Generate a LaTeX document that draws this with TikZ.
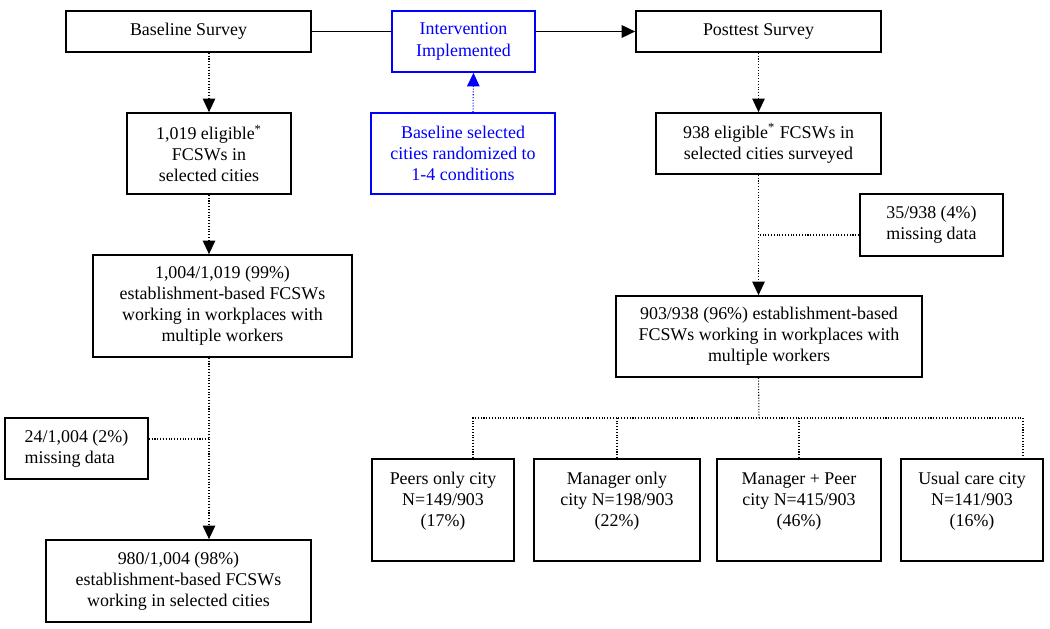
\documentclass[tikz,border=0pt]{standalone}
\usepackage{fontspec}
\setmainfont{Liberation Serif}
\usepackage{xcolor}
\usepackage{tikz}
\usetikzlibrary{arrows.meta}

\begin{document}
\begin{tikzpicture}[x=0.02cm, y=-0.02cm,
    every node/.style = {shape=rectangle, draw, line width=1pt,
      align=center, inner sep=2pt,
      font=\fontsize{10.2}{12}\selectfont},
    bluebox/.style = {draw=blue, text=blue},
    notebox/.style = {align=left},
    flow/.style = {line width=1pt, -{Triangle[length=2.7mm, width=2.5mm]}},
    dotflow/.style = {line width=0.6pt, densely dotted, -{Triangle[length=2.7mm, width=2.5mm]}},
    dotline/.style = {line width=0.6pt, densely dotted}]
    \useasboundingbox (0,0) rectangle (1050,628);
    % top row
    \node[minimum width=4.9cm, minimum height=0.82cm] (base) at (188.5,31.5) {Baseline Survey};
    \node[bluebox, minimum width=2.86cm, minimum height=1.22cm] (interv) at (463.5,41.5) {Intervention\\Implemented};
    \node[minimum width=4.9cm, minimum height=0.82cm] (post) at (758.5,31.5) {Posttest Survey};
    % second row
    \node[minimum width=3.28cm, minimum height=1.62cm] (elig1) at (209,153.5)
      {1,019 eligible\textsuperscript{*}\\FCSWs in\\selected cities};
    \node[bluebox, minimum width=3.68cm, minimum height=1.62cm] (rand) at (463,153.5)
      {Baseline selected\\cities randomized to\\1-4 conditions};
    \node[minimum width=4.5cm, minimum height=1.22cm] (elig2) at (768.5,143.5)
      {938 eligible\textsuperscript{*} FCSWs in\\selected cities surveyed};
    % baseline column
    \node[minimum width=5.18cm, minimum height=2.04cm] (multi1) at (222.5,306)
      {1,004/1,019 (99\%)\\establishment-based FCSWs\\working in workplaces with\\multiple workers};
    \node[notebox, minimum width=2.86cm, minimum height=1.22cm] (miss1) at (76.5,448.5)
      {24/1,004 (2\%)\\missing data};
    \node[minimum width=5.3cm, minimum height=1.64cm] (final1) at (178.5,581)
      {980/1,004 (98\%)\\establishment-based FCSWs\\working in selected cities};
    % posttest column
    \node[notebox, minimum width=2.86cm, minimum height=1.24cm] (miss2) at (931.5,225)
      {35/938 (4\%)\\missing data};
    \node[minimum width=6.12cm, minimum height=1.62cm] (multi2) at (769,336.5)
      {903/938 (96\%) establishment-based\\FCSWs working in workplaces with\\multiple workers};
    % conditions
    \node[minimum width=2.84cm, minimum height=2.04cm] (peer) at (443,510)
      {Peers only city\\N=149/903\\(17\%)\\\mbox{}};
    \node[minimum width=3.32cm, minimum height=2.04cm] (mgr) at (617,510)
      {Manager only\\city N=198/903\\(22\%)\\\mbox{}};
    \node[minimum width=3.28cm, minimum height=2.04cm] (mgrpeer) at (799,510)
      {Manager + Peer\\city N=415/903\\(46\%)\\\mbox{}};
    \node[minimum width=2.84cm, minimum height=2.04cm] (usual) at (972,510)
      {Usual care city\\N=141/903\\(16\%)\\\mbox{}};
    \coordinate (split) at (759,418);

    % connectors
    \draw[line width=1pt] (base.east) -- (base.east -| interv.west);
    \draw[flow] (interv.east |- post.west) -- (post.west);
    \draw[dotflow, blue] ([xshift=0.2cm]rand.north) -- ([xshift=0.2cm]interv.south);
    \draw[dotflow] (elig1.north |- base.south) -- (elig1.north);
    \draw[dotflow] (elig1.south) -- (elig1.south |- multi1.north);
    \draw[dotflow] (elig1.south |- multi1.south) -- (elig1.south |- final1.north);
    \draw[dotline] (miss1.east |- 0,439) -- (elig1.south |- 0,439);
    \draw[dotflow] (post.south) -- (post.south |- elig2.north);
    \draw[dotflow] (post.south |- elig2.south) -- (post.south |- multi2.north);
    \draw[dotline] (miss2.west |- 0,235) -- (post.south |- 0,235);
    \draw[dotline] (post.south |- multi2.south) -- (split);
    \draw[dotline] ([xshift=0.6cm]peer.north) |- (split) -| ([xshift=1.02cm]usual.north);
    \draw[dotline] (mgr.north) -- (mgr.north |- split);
    \draw[dotline] (mgrpeer.north) -- (mgrpeer.north |- split);
\end{tikzpicture}
\end{document}
